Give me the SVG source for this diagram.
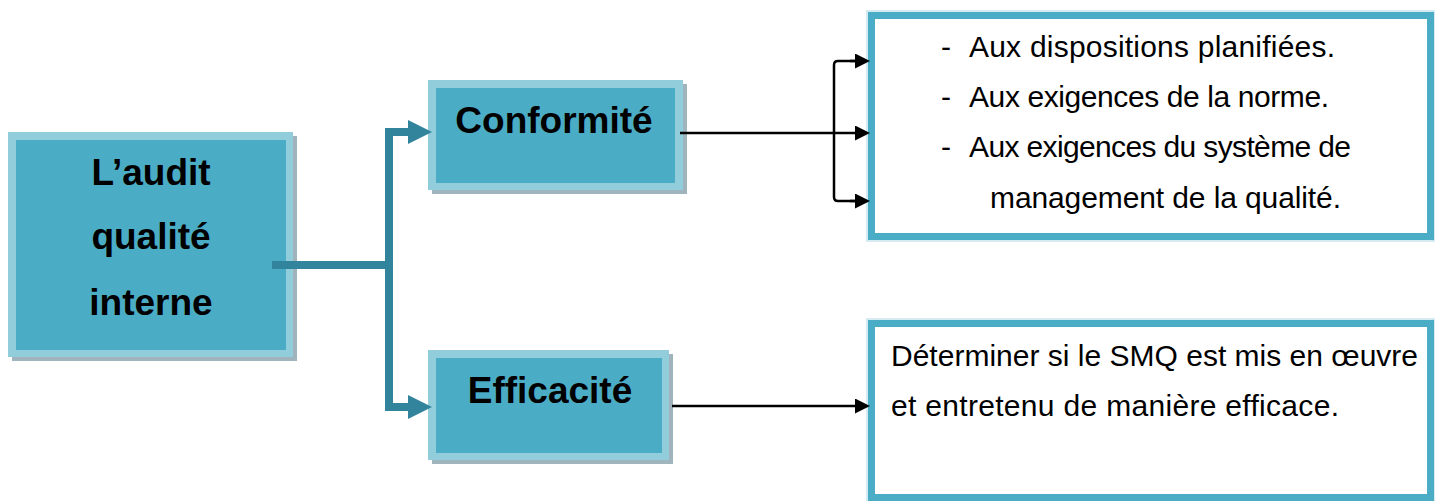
<svg xmlns="http://www.w3.org/2000/svg" width="1435" height="501" viewBox="0 0 1435 501">
  <defs>
    <style>
      .shadow { fill: #9fb4bc; }
      .frame { fill: #92cddc; }
      .fill { fill: #4bacc6; }
      .label { font-family: "Liberation Sans", Arial, sans-serif; font-weight: bold; font-size: 37px; fill: #000; text-anchor: middle; }
      .panel { fill: #fff; stroke: #4bacc6; stroke-width: 7; }
      .panel-edge { fill: none; stroke: #a8d7e4; stroke-width: 1; }
      .body { font-family: "Liberation Sans", Arial, sans-serif; font-size: 30px; fill: #000; }
      .trunk { fill: none; stroke: #31849b; stroke-width: 8; }
      .thin { fill: none; stroke: #000; stroke-width: 2.5; stroke-linejoin: round; }
    </style>
    <marker id="tealHead" viewBox="0 0 24 24" refX="0" refY="12" markerWidth="24" markerHeight="24" markerUnits="userSpaceOnUse" orient="auto">
      <path d="M0,0 L24,12 L0,24 Z" fill="#31849b"/>
    </marker>
    <marker id="blackHead" viewBox="0 0 15 15" refX="0" refY="7.5" markerWidth="15" markerHeight="15" markerUnits="userSpaceOnUse" orient="auto">
      <path d="M0,0 L15,7.5 L0,15 Z" fill="#000"/>
    </marker>
  </defs>

  <rect width="1435" height="501" fill="#fff"/>

  <!-- root node -->
  <g id="audit">
    <rect class="shadow" x="12" y="136" width="285" height="225"/>
    <rect class="frame" x="8" y="132" width="285" height="225"/>
    <rect class="fill" x="16" y="140" width="270" height="210"/>
    <text class="label" x="151" y="185">L’audit</text>
    <text class="label" x="151" y="249">qualité</text>
    <text class="label" x="151" y="315">interne</text>
  </g>

  <!-- branch nodes -->
  <g id="conformite">
    <rect class="shadow" x="432" y="84" width="255" height="110"/>
    <rect class="frame" x="428" y="80" width="255" height="110"/>
    <rect class="fill" x="436" y="88" width="239" height="95"/>
    <text class="label" x="554" y="133">Conformité</text>
  </g>

  <g id="efficacite">
    <rect class="shadow" x="432" y="354" width="241" height="110"/>
    <rect class="frame" x="428" y="350" width="241" height="110"/>
    <rect class="fill" x="436" y="358" width="226" height="95"/>
    <text class="label" x="550" y="403">Efficacité</text>
  </g>

  <!-- detail panels -->
  <g id="conformite-details">
    <rect class="panel-edge" x="867" y="11" width="567" height="230"/>
    <rect class="panel" x="871.5" y="15.5" width="559" height="221"/>
    <text class="body" x="941" y="57">-</text>
    <text class="body" x="969" y="57" textLength="366" lengthAdjust="spacing">Aux dispositions planifiées.</text>
    <text class="body" x="941" y="107">-</text>
    <text class="body" x="969" y="107" textLength="360" lengthAdjust="spacing">Aux exigences de la norme.</text>
    <text class="body" x="941" y="157">-</text>
    <text class="body" x="969" y="157" textLength="382" lengthAdjust="spacing">Aux exigences du système de</text>
    <text class="body" x="990" y="208" textLength="351" lengthAdjust="spacing">management de la qualité.</text>
  </g>

  <g id="efficacite-details">
    <rect class="panel-edge" x="867" y="319" width="567" height="190"/>
    <rect class="panel" x="871.5" y="323.5" width="559" height="174"/>
    <text class="body" x="891" y="366" textLength="527" lengthAdjust="spacing">Déterminer si le SMQ est mis en œuvre</text>
    <text class="body" x="891" y="416" textLength="448" lengthAdjust="spacing">et entretenu de manière efficace.</text>
  </g>

  <!-- connectors -->
  <g id="connectors">
    <path class="trunk" d="M272,265 H389"/>
    <path class="trunk" d="M389,128 V411"/>
    <path class="trunk" d="M385,132 H408" marker-end="url(#tealHead)"/>
    <path class="trunk" d="M385,407 H408" marker-end="url(#tealHead)"/>

    <path class="thin" d="M680,133 H855" marker-end="url(#blackHead)"/>
    <path class="thin" d="M855,61 H838 Q834,61 834,65 V197 Q834,201 838,201 H855" />
    <path class="thin" d="M850,61 H855" marker-end="url(#blackHead)"/>
    <path class="thin" d="M850,201 H855" marker-end="url(#blackHead)"/>

    <path class="thin" d="M672,406 H855" marker-end="url(#blackHead)"/>
  </g>
</svg>
